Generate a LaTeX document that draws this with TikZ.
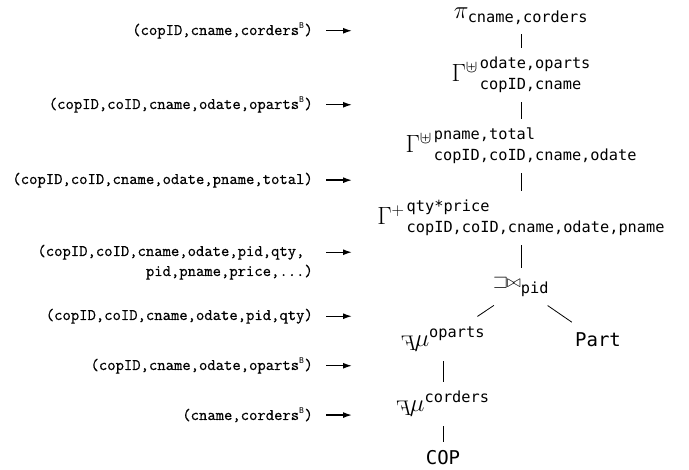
\documentclass[tikz,border=0pt]{standalone}
\usepackage[no-math]{fontspec}
\usepackage{amssymb,graphicx}
\usetikzlibrary{arrows.meta}
\newfontfamily\relfont{DejaVu Sans Mono}
\newfontfamily\schfont{Latin Modern Mono}[FakeBold=0.6]
\def\atr#1{\hbox{\fontsize{15.3}{18}\selectfont\relfont #1}}
\def\bg{\textsuperscript{\fontsize{8}{8}\selectfont\relfont B}}
\def\grp#1#2#3{$\Gamma^{#1}$\kern2pt\raisebox{-8pt}{\vbox{\baselineskip=21pt\hbox{\atr{#2}}\hbox{\atr{#3}}}}}
\def\unn#1{$\raisebox{-4pt}{\reflectbox{\scalebox{0.85}{$F$}}}\mkern-2mu\mu^{\atr{#1}}$}
\tikzset{
  op/.style={inner sep=0pt, anchor=base, font=\fontsize{23}{27}\selectfont},
  rel/.style={inner sep=0pt, anchor=base, font=\fontsize{19}{22}\selectfont\relfont},
  schema/.style={inner sep=0pt, anchor=base east, font=\fontsize{16.2}{19}\selectfont\schfont},
  edge/.style={line width=0.8pt, shorten <=9pt, shorten >=9pt},
  fork/.style={line width=0.8pt, shorten <=15pt, shorten >=19pt},
  flow/.style={line width=1.4pt, -{Latex[length=9pt,width=6pt]}}
}
\begin{document}
\begin{tikzpicture}[x=1pt,y=-1pt]
  \useasboundingbox (0,0) rectangle (689,470);
  \node[op] (pi) at (521,19) {$\pi_{\atr{cname,corders}}$};
  \node[op] (g1) at (521,82) {\grp{\uplus}{odate,oparts}{copID,cname}};
  \node[op] (g2) at (521,153) {\grp{\uplus}{pname,total}{copID,coID,cname,odate}};
  \node[op] (g3) at (521,225) {\grp{+}{qty*price}{copID,coID,cname,odate,pname}};
  \node[op, font=\fontsize{19}{22}\selectfont] (jn) at (521,288) {$\mathord{\sqsupset}\mkern-1mu\mathord{\bowtie}_{\atr{pid}}$};
  \node[op] (mu1) at (443,347) {\unn{oparts}};
  \node[rel] (part) at (598,347) {Part};
  \node[op] (mu2) at (443,412) {\unn{corders}};
  \node[rel] (cop) at (443,465) {COP};
  \foreach \a/\b in {pi/g1,g1/g2,g2/g3,g3/jn,mu1/mu2,mu2/cop}
    \draw[edge] (\a.south) -- (\b.north);
  \draw[fork] (jn) -- (mu1);
  \draw[fork] (jn) -- (part);
  \foreach \n/\y/\t in {s1/35/{(copID,cname,corders\bg)},
      s2/109/{(copID,coID,cname,odate,oparts\bg)},
      s3/184/{(copID,coID,cname,odate,pname,total)},
      s4/256/{(copID,coID,cname,odate,pid,qty,\phantom{x}},
      s5/320/{(copID,coID,cname,odate,pid,qty)},
      s6/370/{(copID,cname,odate,oparts\bg)},
      s7/420/{(cname,corders\bg)}}{
    \node[schema] (\n) at (313,\y) {\t};
    \draw[flow] ([xshift=13pt]\n.east) -- ++(26,0);
  }
  \node[schema] (s4b) at (313,276) {pid,pname,price,...)};
\end{tikzpicture}
\end{document}
